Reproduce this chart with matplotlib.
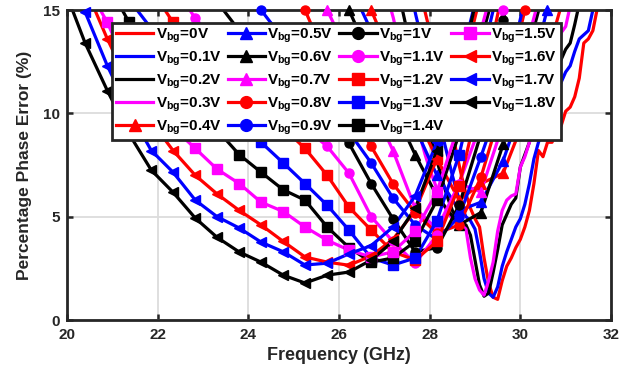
import numpy as np
import matplotlib
matplotlib.use("Agg")
import matplotlib.pyplot as plt
from matplotlib.lines import Line2D

plt.rcParams['font.family'] = ['Liberation Sans', 'DejaVu Sans']
plt.rcParams['font.weight'] = 'bold'
plt.rcParams['mathtext.fontset'] = 'custom'
plt.rcParams['mathtext.rm'] = 'Liberation Sans:bold'
plt.rcParams['mathtext.it'] = 'Liberation Sans:bold'
plt.rcParams['mathtext.bf'] = 'Liberation Sans:bold'
plt.rcParams['mathtext.default'] = 'rm'

nan = np.nan

# Frequency grid (GHz) of the marker-bearing sweeps
freq_coarse = [19.91, 20.40, 20.89, 21.37, 21.86, 22.34, 22.83, 23.31, 23.80, 24.28,
               24.77, 25.25, 25.74, 26.22, 26.71, 27.19, 27.68, 28.16, 28.65, 29.13,
               29.62, 30.10, 30.59, 31.07]

err_1p8 = [16.2, 13.4, 11.1, 9.0, 7.25, 6.18, 4.93, 4.0, 3.29, 2.8, 2.17, 1.79, 2.17, 2.32,
           2.9, 3.8, 5.4, 8.2, 11.8, 16.5, nan, nan, nan, nan]
err_1p7 = [17.5, 14.9, 12.3, 10.1, 8.2, 7.15, 5.8, 5.0, 4.45, 3.77, 3.3, 2.66, 2.75, 3.2,
           3.6, 4.5, 6.0, 8.6, 12.2, 16.5, nan, nan, nan, nan]
err_1p6 = [nan, 16.1, 13.6, 11.4, 9.6, 8.2, 7.0, 6.1, 5.3, 4.6, 3.8, 3.05, 2.8, 2.65,
           3.1, 3.9, 5.3, 7.8, 11.5, 15.8, nan, nan, nan, nan]
err_1p5 = [nan, 16.3, 14.4, 12.0, 10.4, 9.3, 8.3, 7.3, 6.6, 5.7, 5.25, 4.5, 3.86, 3.38,
           3.05, 3.3, 4.3, 6.2, 9.5, 14.0, 18.0, nan, nan, nan]
err_1p4 = [nan, nan, 16.3, 14.4, 13.0, 11.7, 10.4, 9.2, 8.0, 7.15, 6.3, 5.8, 4.5, 3.5,
           2.8, 3.0, 3.8, 5.8, 9.0, 13.5, 17.5, nan, nan, nan]
err_1p3 = [nan, nan, nan, 15.5, 14.1, 12.9, 11.7, 10.6, 9.6, 8.6, 7.6, 6.6, 5.55, 4.35,
           3.0, 2.66, 3.0, 4.8, 8.0, 12.5, 17.0, nan, nan, nan]
err_1p2 = [nan, nan, nan, nan, 16.0, 14.4, 13.4, 12.4, 11.3, 10.3, 9.3, 8.3, 7.0, 5.46,
           4.35, 3.3, 2.9, 3.8, 6.5, 11.0, 16.0, nan, nan, nan]
err_1p1 = [nan, nan, nan, nan, nan, 16.2, 14.6, 13.4, 12.3, 11.2, 10.2, 9.3, 8.4, 7.1,
           5.0, 3.8, 2.75, 4.1, 6.6, 9.5, 15.0, 19.0, nan, nan]
err_1p0 = [nan, nan, nan, nan, nan, nan, nan, 15.4, 14.0, 12.7, 11.4, 10.1, 9.3, 8.55,
           6.6, 4.9, 3.3, 3.5, 5.55, 9.0, 14.5, 19.0, nan, nan]
err_0p9 = [nan, nan, nan, nan, nan, nan, nan, nan, 16.5, 15.0, 13.6, 12.1, 10.6, 9.1,
           7.6, 5.9, 4.6, 3.9, 5.0, 7.9, 11.0, 15.5, nan, nan]
err_0p8 = [nan, nan, nan, nan, nan, nan, nan, nan, nan, nan, 17.0, 15.0, 12.5, 10.3,
           8.4, 6.6, 5.2, 4.2, 4.6, 6.9, 10.5, 15.0, 19.0, nan]
err_0p7 = [nan, nan, nan, nan, nan, nan, nan, nan, nan, nan, nan, 17.0, 15.0, 12.8,
           10.5, 8.2, 5.4, 4.4, 6.6, 6.2, 9.5, 13.0, 17.0, nan]
err_0p6 = [nan, nan, nan, nan, nan, nan, nan, nan, nan, nan, nan, nan, 17.0, 15.0,
           12.6, 10.3, 8.0, 6.0, 4.6, 5.2, 8.5, 12.5, 16.5, nan]
err_0p5 = [nan, nan, nan, nan, nan, nan, nan, nan, nan, nan, nan, nan, nan, 16.3,
           14.0, 11.6, 9.3, 7.0, 5.3, 5.7, 7.7, 10.8, 15.0, 19.0]
err_0p4 = [nan, nan, nan, nan, nan, nan, nan, nan, nan, nan, nan, nan, nan, 17.3,
           15.0, 12.5, 10.0, 7.8, 5.8, 6.6, 7.1, 9.8, 12.8, 16.5]

# Fine-step sweeps (0.1 GHz) for the low back-gate voltages
freq_0p3 = [27.1, 27.2, 27.3, 27.4, 27.5, 27.6, 27.7, 27.8, 27.9, 28.0, 28.1, 28.2, 28.3,
            28.4, 28.5, 28.6, 28.7, 28.8, 28.9, 29.0, 29.1, 29.2, 29.3, 29.4, 29.5, 29.6,
            29.7, 29.8, 29.9, 30.0, 30.1, 30.2, 30.3, 30.4, 30.5, 30.6, 30.7, 30.8, 30.9,
            31.0, 31.1]
err_0p3 = [15.4, 14.6, 13.6, 12.6, 11.6, 10.6, 9.7, 8.8, 8.0, 7.3, 6.7, 6.1, 5.6,
           5.2, 4.9, 4.7, 4.6, 4.4, 3.0, 2.0, 1.45, 1.2, 1.9, 2.8, 4.3, 5.3,
           5.8, 6.0, 6.1, 7.4, 7.9, 8.6, 9.4, 10.1, 10.5, 11.3, 12.0, 12.8, 13.9,
           14.2, 15.2]

freq_0p2 = [27.3, 27.4, 27.5, 27.6, 27.7, 27.8, 27.9, 28.0, 28.1, 28.2, 28.3, 28.4, 28.5,
            28.6, 28.7, 28.8, 28.9, 29.0, 29.1, 29.2, 29.3, 29.4, 29.5, 29.6, 29.7, 29.8,
            29.9, 30.0, 30.1, 30.2, 30.3, 30.4, 30.5, 30.6, 30.7, 30.8, 30.9, 31.0, 31.1,
            31.2, 31.3]
err_0p2 = [16.0, 15.0, 14.0, 13.0, 12.0, 11.0, 10.0, 9.1, 8.2, 7.4, 6.6, 5.9, 5.3,
           4.9, 4.7, 4.6, 4.1, 2.9, 1.7, 1.15, 1.3, 2.3, 3.4, 4.6, 5.1, 5.6,
           5.9, 7.4, 8.0, 8.6, 9.4, 10.0, 10.4, 11.0, 11.6, 12.3, 12.6, 13.1, 13.4,
           14.3, 15.3]

freq_0p1 = [27.6, 27.7, 27.8, 27.9, 28.0, 28.1, 28.2, 28.3, 28.4, 28.5, 28.6, 28.7, 28.8,
            28.9, 29.0, 29.1, 29.2, 29.3, 29.4, 29.5, 29.6, 29.7, 29.8, 29.9, 30.0, 30.1,
            30.2, 30.3, 30.4, 30.5, 30.6, 30.7, 30.8, 30.9, 31.0, 31.1, 31.2, 31.3, 31.4,
            31.5, 31.6, 31.7]
err_0p1 = [15.7, 14.7, 13.8, 12.8, 11.8, 10.8, 9.8, 8.8, 7.9, 7.0, 6.2, 5.5, 5.0,
           4.8, 4.4, 3.3, 2.0, 1.3, 1.1, 1.6, 2.6, 3.3, 3.9, 4.5, 4.9, 5.6,
           6.6, 7.8, 8.6, 9.1, 9.8, 10.4, 10.9, 11.5, 12.0, 12.3, 13.0, 13.6, 13.8,
           14.0, 15.0, 16.0]

freq_0p0 = [27.8, 27.9, 28.0, 28.1, 28.2, 28.3, 28.4, 28.5, 28.6, 28.7, 28.8, 28.9, 29.0,
            29.1, 29.2, 29.3, 29.4, 29.5, 29.6, 29.7, 29.8, 29.9, 30.0, 30.1, 30.2, 30.3,
            30.4, 30.5, 30.6, 30.7, 30.8, 30.9, 31.0, 31.1, 31.2, 31.3, 31.4, 31.5, 31.6,
            31.7, 31.8]
err_0p0 = [15.8, 14.9, 14.0, 13.1, 12.2, 11.2, 10.2, 9.1, 8.0, 7.0, 6.1, 5.4, 4.9,
           4.5, 3.0, 1.8, 1.1, 1.0, 1.9, 2.6, 3.0, 3.5, 3.9, 4.5, 5.3, 6.6,
           8.2, 7.9, 8.6, 8.6, 9.2, 9.4, 10.1, 10.3, 10.8, 11.7, 13.4, 13.6, 14.0,
           15.1, 16.0]

RED, BLUE, BLACK, MAG = '#ff0000', '#0000ff', '#000000', '#ff00ff'

series = [
    ('0',   freq_0p0, err_0p0, RED,   None),
    ('0.1', freq_0p1, err_0p1, BLUE,  None),
    ('0.2', freq_0p2, err_0p2, BLACK, None),
    ('0.3', freq_0p3, err_0p3, MAG,   None),
    ('0.4', freq_coarse, err_0p4, RED,   '^'),
    ('0.5', freq_coarse, err_0p5, BLUE,  '^'),
    ('0.6', freq_coarse, err_0p6, BLACK, '^'),
    ('0.7', freq_coarse, err_0p7, MAG,   '^'),
    ('0.8', freq_coarse, err_0p8, RED,   'o'),
    ('0.9', freq_coarse, err_0p9, BLUE,  'o'),
    ('1',   freq_coarse, err_1p0, BLACK, 'o'),
    ('1.1', freq_coarse, err_1p1, MAG,   'o'),
    ('1.2', freq_coarse, err_1p2, RED,   's'),
    ('1.3', freq_coarse, err_1p3, BLUE,  's'),
    ('1.4', freq_coarse, err_1p4, BLACK, 's'),
    ('1.5', freq_coarse, err_1p5, MAG,   's'),
    ('1.6', freq_coarse, err_1p6, RED,   '<'),
    ('1.7', freq_coarse, err_1p7, BLUE,  '<'),
    ('1.8', freq_coarse, err_1p8, BLACK, '<'),
]

fig = plt.figure(figsize=(6.21, 3.82), dpi=100)
ax = fig.add_axes([67 / 621, 1 - 320 / 382, 544 / 621, 310 / 382])

LW = 2.3
MS = 6.5
handles = []
for volt, f, e, col, mk in series:
    f = np.asarray(f, dtype=float)
    e = np.asarray(e, dtype=float)
    ax.plot(f, e, color=col, lw=LW, solid_joinstyle='round', clip_on=True)
    if mk is not None:
        keep = (e <= 15.05) & (f >= 20) & (f <= 32)
        ax.plot(f[keep], e[keep], ls='none', marker=mk, ms=MS, color=col,
                mec=col, mfc=col, clip_on=False, zorder=3)
    handles.append(Line2D([], [], color=col, lw=LW, marker=mk, ms=MS + 2,
                          mfc=col, mec=col, label=r'$V_{bg}$=' + volt + 'V'))

ax.set_xlim(20, 32)
ax.set_ylim(0, 15)
ax.set_xticks([20, 22, 24, 26, 28, 30, 32])
ax.set_yticks([0, 5, 10, 15])
ax.grid(True, color='#dcdcdc', lw=1.3)
ax.set_axisbelow(True)
for s in ax.spines.values():
    s.set_linewidth(2.0)
    s.set_color('#262626')
ax.tick_params(direction='in', top=True, right=True, length=4, width=1.8,
               color='#262626', labelsize=11)
ax.tick_params(axis='x', pad=6)
ax.tick_params(axis='y', pad=5)
for lab in ax.get_xticklabels() + ax.get_yticklabels():
    lab.set_fontweight('bold')
    lab.set_color('#262626')

ax.set_xlabel('Frequency (GHz)', fontsize=13, fontweight='bold', color='#262626', labelpad=3)
ax.set_ylabel('Percentage Phase Error (%)', fontsize=12.5, fontweight='bold', color='#262626',
              labelpad=8)

leg = ax.legend(handles=handles, ncol=4, loc='upper left',
                bbox_to_anchor=(0.083, 0.958), fontsize=11, frameon=True,
                fancybox=False, edgecolor='#262626', framealpha=1.0,
                handlelength=2.45, handletextpad=0.15, columnspacing=0.4,
                labelspacing=0.3, borderpad=0.25, borderaxespad=0.0)
leg.get_frame().set_linewidth(2.0)
leg.set_zorder(10)

fig.savefig('out.png', dpi=100)
